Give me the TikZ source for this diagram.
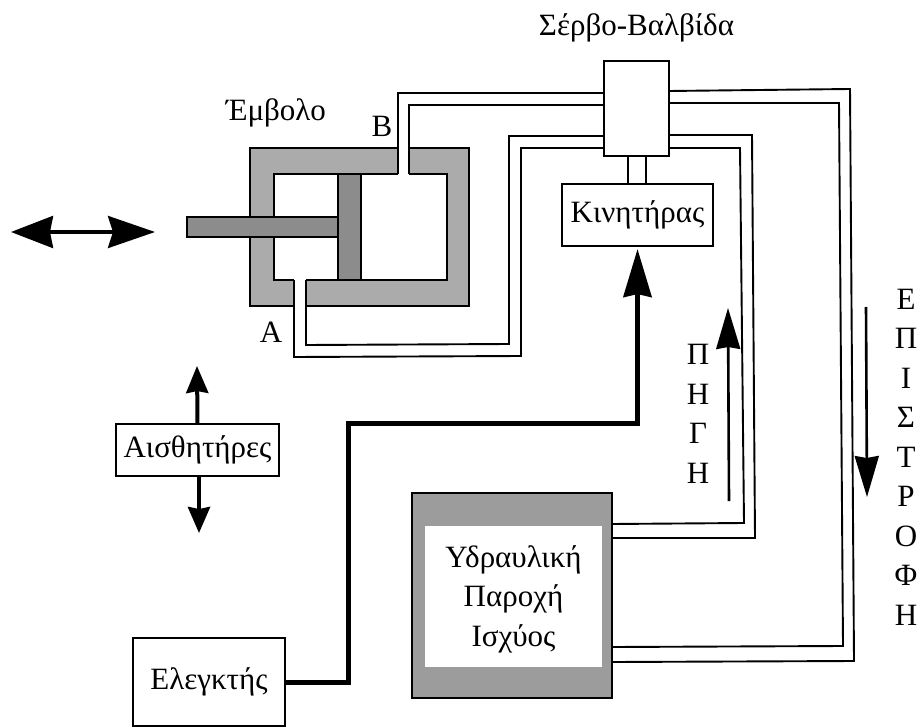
\documentclass[tikz,border=0pt]{standalone}
\usepackage{fontspec}
\setmainfont{Liberation Serif}
\usetikzlibrary{arrows.meta}
\definecolor{wallgray}{HTML}{ABABAB}
\definecolor{rodgray}{HTML}{8C8C8C}
\definecolor{supplygray}{HTML}{9C9C9C}
\tikzset{
  x=1pt,y=-1pt,
  line/.style={line width=1.9pt,draw=black,line join=miter},
  box/.style={rectangle,draw=black,line width=1.9pt,fill=white,inner sep=0pt,outer sep=0pt,font=\fontsize{31}{39.5}\selectfont,align=center},
  lbl/.style={inner sep=0pt,outer sep=0pt,font=\fontsize{31}{39.5}\selectfont,align=center},
  vletters/.style={inner sep=0pt,outer sep=0pt,font=\fontsize{31}{39.5}\selectfont,align=center},
  signal/.style={line width=5pt,draw=black},
  sensorarrow/.style={line width=4pt,draw=black},
  flow/.style={line width=2.6pt,draw=black}
}
\begin{document}
\begin{tikzpicture}
\useasboundingbox (0,0) rectangle (920,727);
\fill[white] (0,0) rectangle (920,727);

% cylinder body
\fill[wallgray] (250,148) rectangle (469,306);
\fill[white] (274,174) rectangle (447,280);
\fill[white] (398,146) rectangle (409,176);
\fill[white] (294,278) rectangle (306,308);
\draw[line] (398,148) -- (250,148) -- (250,306) -- (294,306);
\draw[line] (306,306) -- (469,306) -- (469,148) -- (409,148);
\draw[line] (398,174) -- (274,174) -- (274,280) -- (294,280);
\draw[line] (306,280) -- (447,280) -- (447,174) -- (409,174);
% piston and rod
\node[box,fill=rodgray,minimum width=23pt,minimum height=106pt] (piston) at (349.5,227) {};
\node[box,fill=rodgray,minimum width=151pt,minimum height=20pt] (rod) at (262.5,227) {};

% boxes
\node[box,minimum width=65pt,minimum height=95pt] (valve) at (636.5,108.5) {};
\node[box,minimum width=151pt,minimum height=62pt] (motor) at (637.5,215) {Κινητήρας};
\node[box,fill=supplygray,minimum width=200pt,minimum height=205pt] (supply) at (512,595.5) {};
\node[fill=white,inner sep=0pt,minimum width=177pt,minimum height=141pt] (supplypanel) at (513.5,596.5) {};
\node[lbl] (supplytext) at (513.5,599) {Υδραυλική\\Παροχή\\Ισχύος};
\node[box,minimum width=163pt,minimum height=52pt] (sensors) at (197.5,450) {Αισθητήρες};
\node[box,minimum width=152pt,minimum height=88pt] (ctrl) at (209,682) {Ελεγκτής};

% valve stem
\draw[line] (628,156) -- (628,184);
\draw[line] (646,156) -- (646,184);

% pipes: cylinder to valve
\coordinate (bo) at (398,174);
\coordinate (bi) at (409,174);
\coordinate (ao) at (294,280);
\coordinate (ai) at (306,280);
\draw[line] (bo) -- (398,93) -- (valve.west |- 0,93);
\draw[line] (bi) -- (409,105) -- (valve.west |- 0,105);
\draw[line] (ao) -- (294,357) -- (521,356) -- (521,148) -- (valve.west |- 0,148);
\draw[line] (ai) -- (306,345) -- (509,344) -- (509,136) -- (valve.west |- 0,136);

% pipes: valve to supply
\draw[line] (valve.east |- 0,148) -- (740,148) -- (744,523) -- (supply.east |- 0,524);
\draw[line] (valve.east |- 0,135) -- (752,135) -- (755,538) -- (supply.east |- 0,538);
\draw[line] (valve.east |- 0,103) -- (839,103) -- (843,646) -- (supply.east |- 0,647);
\draw[line] (valve.east |- 0,91) -- (850,89) -- (854,661) -- (supply.east |- 0,662);

% signal line
\draw[signal,-{Stealth[length=48pt,width=28pt,inset=3pt]},shorten >=3pt]
  (ctrl.east) -- (348,682) -- (348,423) -- (637.5,423) -- (motor.south);

% sensor arrows
\coordinate (sup) at (197,366);
\coordinate (sdown) at (199,533);
\draw[sensorarrow,-{Stealth[length=27pt,width=22pt,inset=2pt]}] (sensors.north) -- (sup);
\draw[sensorarrow,-{Stealth[length=26pt,width=22pt,inset=2pt]}] (199,476) -- (sdown);

% travel arrow
\coordinate (tl) at (11,232);
\coordinate (tr) at (155,232);
\draw[line width=3.4pt,{Stealth[length=42pt,width=32pt,inset=3pt]}-{Stealth[length=47pt,width=32pt,inset=5pt]}] (tl) -- (tr);

% flow arrows
\coordinate (sa) at (729,501);
\coordinate (sb) at (728,308);
\coordinate (ra) at (866,307);
\coordinate (rb) at (867,497);
\draw[flow,-{Stealth[length=41pt,width=24pt,inset=2pt]}] (sa) -- (sb);
\draw[flow,-{Stealth[length=41pt,width=24pt,inset=2pt]}] (ra) -- (rb);

% labels
\node[lbl] (title) at (636.5,28) {Σέρβο-Βαλβίδα};
\node[lbl] (piston label) at (276,113) {Έμβολο};
\node[lbl] (portb) at (382,126) {B};
\node[lbl] (porta) at (271,332) {A};
\node[vletters] (source) at (698,414) {Π\\Η\\Γ\\Η};
\node[vletters] (return) at (906,457) {Ε\\Π\\Ι\\Σ\\Τ\\Ρ\\Ο\\Φ\\Η};
\end{tikzpicture}
\end{document}
